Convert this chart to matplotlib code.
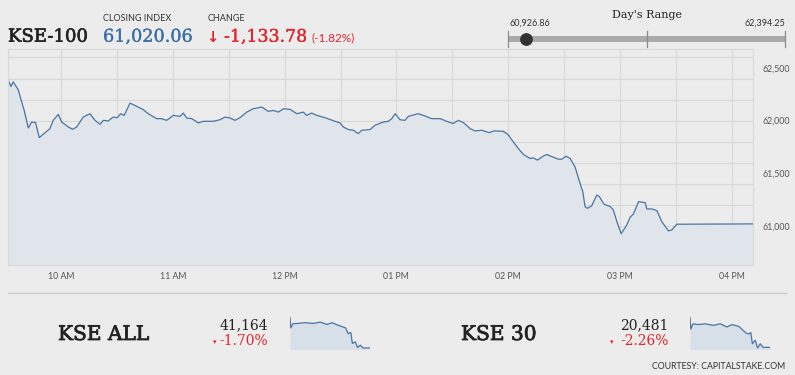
import matplotlib
matplotlib.use("Agg")
import matplotlib.pyplot as plt
import matplotlib.ticker as mticker
import matplotlib.patheffects as pe

# --- data --------------------------------------------------------------
# KSE-100 intraday trace: minutes since midnight, index level
KSE100_TIMES = [
    571.4, 573.0, 574.2, 576.9, 578.4, 580.1, 582.3, 584.1, 586.2, 588.2,
    590.3, 593.9, 595.7, 598.4, 600.2, 603.8, 606.1, 608.3, 611.8, 615.4,
    618.1, 620.8, 622.6, 625.2, 627.9, 630.1, 631.9, 633.8, 636.9, 639.6,
    644.1, 646.7, 651.2, 653.9, 656.6, 660.2, 663.8, 665.5, 667.4, 670.1,
    673.6, 676.3, 681.7, 685.3, 687.9, 690.6, 693.3, 696.0, 699.6, 703.1,
    707.7, 711.2, 713.9, 716.6, 719.3, 722.9, 726.5, 730.0, 731.8, 734.5,
    737.2, 741.7, 747.0, 749.7, 751.5, 754.2, 756.9, 759.5, 761.4, 765.8,
    768.5, 773.0, 775.7, 777.5, 779.3, 781.9, 784.6, 786.4, 791.8, 795.4,
    799.0, 803.5, 807.0, 810.3, 813.3, 816.0, 819.6, 822.3, 825.8, 829.9,
    832.1, 837.4, 839.8, 842.8, 845.5, 848.2, 851.8, 853.6, 855.7, 859.0,
    860.8, 862.5, 867.0, 868.8, 871.1, 873.3, 875.9, 878.6, 880.1, 881.3,
    882.6, 884.9, 887.6, 889.0, 891.5, 894.8, 896.5, 898.4, 900.7, 903.7,
    905.5, 907.3, 910.0, 913.6, 914.5, 917.2, 919.9, 922.5, 926.1, 927.9,
    930.6, 971.4,
]
KSE100_VALUES = [
    62390, 62323, 62368, 62293, 62198, 62097, 61930, 61987, 61981, 61839,
    61870, 61924, 62003, 62060, 61987, 61940, 61918, 61940, 62034, 62066,
    62003, 61965, 62003, 61997, 62034, 62028, 62066, 62050, 62166, 62144,
    62104, 62066, 62019, 62019, 62003, 62050, 62041, 62072, 62025, 62019,
    61978, 61994, 61994, 62009, 62034, 62025, 62003, 62028, 62081, 62113,
    62129, 62088, 62097, 62081, 62113, 62107, 62066, 62081, 62050, 62072,
    62050, 62028, 61994, 61978, 61940, 61915, 61909, 61877, 61909, 61915,
    61956, 61987, 61994, 62019, 62066, 62009, 62003, 62041, 62066, 62044,
    62019, 62019, 61994, 61972, 62003, 61981, 61924, 61902, 61909, 61886,
    61902, 61899, 61870, 61798, 61735, 61679, 61641, 61647, 61625, 61665,
    61679, 61665, 61634, 61634, 61663, 61641, 61562, 61405, 61325, 61183,
    61168, 61193, 61294, 61279, 61206, 61185, 61152, 61042, 60927, 61010,
    61083, 61114, 61231, 61222, 61162, 61162, 61146, 61042, 60954, 60963,
    61017, 61020,
]

CLOSING_INDEX = "61,020.06"
CHANGE = "-1,133.78"
CHANGE_PCT = "(-1.82%)"
DAY_LOW = 60926.86
DAY_HIGH = 62394.25
DAY_CLOSE = 61020.06

# sparklines (time in minutes, index level)
SPARK_TIMES = [571, 575, 586, 612, 646, 688, 722, 756, 781, 815,
               849, 862, 875, 883, 897, 909, 922, 936, 971]
KSEALL_VALUES = [41893, 41645, 41744, 41752, 41769, 41752, 41784, 41727, 41769, 41702,
                 41645, 41504, 41536, 41273, 41313, 41174, 41231, 41164, 41164]
KSE30_VALUES = [20950, 20768, 20851, 20839, 20851, 20827, 20851, 20801, 20839, 20811,
                20712, 20691, 20712, 20537, 20592, 20471, 20537, 20481, 20481]

MINI_NAMES = ["KSE ALL", "KSE 30"]
MINI_LAST = ["41,164", "20,481"]
MINI_PCT = ["-1.70%", "-2.26%"]

# --- style ---------------------------------------------------------------
W, H = 795, 375
BG = "#ececec"
GRID = "#d8d8d8"
LINE = "#4a74a3"
FILL = "#e0e5eb"
RED = "#e2242b"
BLUE = "#3b6ea6"
DARK = "#222222"
SERIF = "DejaVu Serif"
SANS = "Lato"


def fx(x):
    return x / W


def fy(y):
    return 1 - y / H


def heavy(color, lw):
    # fake a slightly heavier serif weight without widening the glyphs much
    return [pe.withStroke(linewidth=lw, foreground=color)]


def time_label(m, pos=None):
    h = int(round(m)) // 60
    suffix = "AM" if h < 12 else "PM"
    h12 = h if h <= 12 else h - 12
    return f"{h12:02d} {suffix}"


fig = plt.figure(figsize=(W / 100, H / 100), dpi=100, facecolor=BG)

# --- header --------------------------------------------------------------
fig.text(fx(8), fy(41.7), "KSE-100", family=SERIF, fontsize=13, color=DARK, va="baseline",
         path_effects=heavy(DARK, 0.45))
fig.text(fx(103), fy(18.7), "CLOSING INDEX", family=SANS, fontsize=6.5, color="#333333",
         va="center")
fig.text(fx(103), fy(41.7), CLOSING_INDEX, family=SERIF, fontsize=12.7, color=BLUE,
         va="baseline", path_effects=heavy(BLUE, 0.2))
fig.text(fx(208), fy(18.7), "CHANGE", family=SANS, fontsize=6.5, color="#333333", va="center")
fig.text(fx(206), fy(41.7), "\u2193", family="DejaVu Sans", fontsize=10.5, color=RED,
         va="baseline", fontweight="bold")
fig.text(fx(224), fy(41.7), CHANGE, family=SERIF, fontsize=12.5, color=RED, va="baseline",
         path_effects=heavy(RED, 0.2))
fig.text(fx(311), fy(41.7), CHANGE_PCT, family=SANS, fontsize=8.5, color=RED, va="baseline")

fig.text(fx(646.5), fy(14.5), "Day's Range", family=SERIF, fontsize=8, color=DARK,
         ha="center", va="center")
fig.text(fx(509), fy(23.5), f"{DAY_LOW:,.2f}", family=SANS, fontsize=6.5, color="#333333",
         va="center")
fig.text(fx(785), fy(23.5), f"{DAY_HIGH:,.2f}", family=SANS, fontsize=6.5, color="#333333",
         va="center", ha="right")

rng = fig.add_axes([fx(508), fy(50), fx(785) - fx(508), fy(28) - fy(50)])
rng.set_xlim(DAY_LOW, DAY_HIGH)
rng.set_ylim(0, 1)
rng.axis("off")
rng.plot([DAY_LOW, DAY_HIGH], [0.5, 0.5], color="#aaaaaa", lw=4.3, solid_capstyle="butt")
mid = (DAY_LOW + DAY_HIGH) / 2
for v in (DAY_LOW, mid, DAY_HIGH):
    rng.plot([v, v], [0.12, 0.88], color="#8a8a8a", lw=0.9, clip_on=False)
rng.plot([DAY_CLOSE], [0.5], "o", color="#333333", ms=8.2, clip_on=False)

# --- main chart ----------------------------------------------------------
ax = fig.add_axes([fx(8), fy(265), fx(753) - fx(8), fy(49) - fy(265)])
ax.set_facecolor(BG)
ymin, ymax = 60630, 62680
ax.set_xlim(571.4, 971.5)
ax.set_ylim(ymin, ymax)
ax.fill_between(KSE100_TIMES, KSE100_VALUES, ymin, color=FILL, lw=0)
ax.plot(KSE100_TIMES, KSE100_VALUES, color=LINE, lw=0.9)

ax.xaxis.set_major_locator(mticker.MultipleLocator(60))
ax.xaxis.set_minor_locator(mticker.MultipleLocator(30))
ax.xaxis.set_major_formatter(mticker.FuncFormatter(time_label))
ax.yaxis.set_major_locator(mticker.MultipleLocator(500))
ax.yaxis.set_minor_locator(mticker.MultipleLocator(200))
ax.yaxis.remove_overlapping_locs = False
ax.yaxis.set_major_formatter(mticker.StrMethodFormatter("{x:,.0f}"))
ax.yaxis.tick_right()
ax.tick_params(axis="both", which="both", length=0)
ax.tick_params(axis="y", pad=7, labelsize=6.3, labelcolor="#555555")
ax.tick_params(axis="x", pad=5, labelsize=6.3, labelcolor="#555555")
for lab in ax.get_xticklabels() + ax.get_yticklabels():
    lab.set_family(SANS)
ax.grid(True, axis="x", which="both", color=GRID, lw=0.8)
ax.grid(True, axis="y", which="minor", color=GRID, lw=0.8)
ax.grid(False, axis="y", which="major")
ax.set_axisbelow(True)
for s in ax.spines.values():
    s.set_color(GRID)
    s.set_linewidth(0.8)

# --- bottom strip --------------------------------------------------------
fig.add_artist(plt.Line2D([fx(8), fx(786)], [fy(293.3), fy(293.3)], color="#cccccc", lw=1))

spark_sets = [KSEALL_VALUES, KSE30_VALUES]
offsets = [0, 400]
for name, last, pct, vals, off in zip(MINI_NAMES, MINI_LAST, MINI_PCT, spark_sets, offsets):
    fig.text(fx(58 + off + (3 if off else 0)), fy(340), name, family=SERIF, fontsize=14.5,
             color=DARK, va="baseline", path_effects=heavy(DARK, 0.55))
    fig.text(fx(268.5 + off), fy(329.3), last, family=SERIF, fontsize=10, color=DARK,
             va="baseline", ha="right")
    fig.text(fx(268.5 + off), fy(345), pct, family=SERIF, fontsize=10, color=RED,
             va="baseline", ha="right")
    fig.text(fx(215 + off - (3 if off else 0)), fy(342), "\u25be", family="DejaVu Sans",
             fontsize=5, color=RED, va="center", ha="center")
    sp = fig.add_axes([fx(290 + off), fy(349.5), fx(80), fy(316) - fy(349.5)])
    lo = min(vals)
    hi = max(vals)
    pad = (hi - lo) * 0.05
    sp.set_xlim(SPARK_TIMES[0], SPARK_TIMES[-1])
    sp.set_ylim(lo - pad, hi + pad)
    sp.fill_between(SPARK_TIMES, vals, lo - pad, color="#d7dfe8", lw=0)
    sp.plot(SPARK_TIMES, vals, color=LINE, lw=0.9)
    sp.axis("off")

fig.text(fx(785.5), fy(366.7), "COURTESY: CAPITALSTAKE.COM", family=SANS, fontsize=6.3,
         color="#333333", va="center", ha="right")

fig.savefig("out.png", dpi=100, facecolor=BG)
